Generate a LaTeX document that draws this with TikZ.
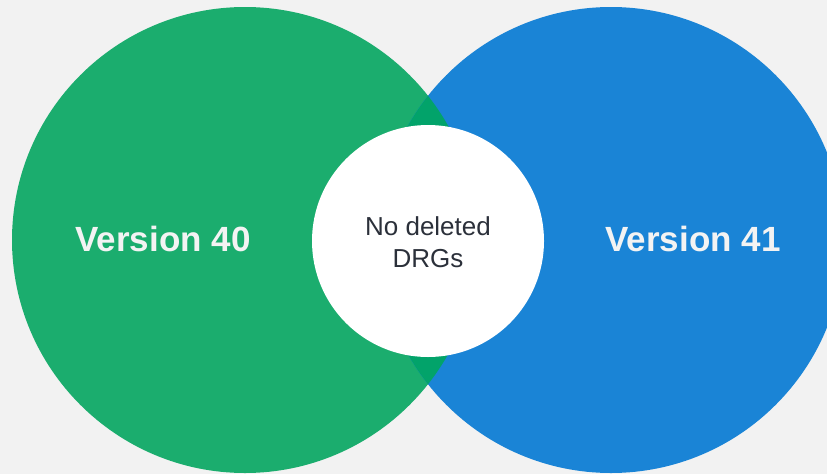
\documentclass[tikz,border=0pt]{standalone}
\usepackage{fontspec}
\setmainfont{Liberation Sans}
\definecolor{bgcol}{HTML}{F2F2F2}
\definecolor{greencol}{HTML}{1BAD6E}
\definecolor{bluecol}{HTML}{1A84D6}
\definecolor{overlapcol}{HTML}{02A36A}
\definecolor{textdark}{HTML}{2B303A}
\definecolor{textlight}{HTML}{F3F3F3}
\begin{document}
\begin{tikzpicture}[x=1pt,y=-1pt,
  setlabel/.style={text=textlight,font=\bfseries\fontsize{35}{40}\selectfont},
  midlabel/.style={text=textdark,align=center,font=\fontsize{26}{32}\selectfont}]
  % background and bounds
  \fill[bgcol] (0,0) rectangle (827,474);
  \useasboundingbox (0,0) rectangle (827,474);
  % the two sets
  \fill[greencol] (245,240) circle[radius=233];
  \fill[bluecol] (611,240) circle[radius=233];
  % their intersection
  \begin{scope}
    \clip (245,240) circle[radius=233];
    \fill[overlapcol] (611,240) circle[radius=233];
  \end{scope}
  % centre disc
  \fill[white] (428,241) circle[radius=116];
  % labels
  \node[setlabel] (v40) at (163,239) {Version 40};
  \node[setlabel] (v41) at (693,239) {Version 41};
  \node[midlabel] (mid) at (428,242) {No deleted\\DRGs};
\end{tikzpicture}
\end{document}
